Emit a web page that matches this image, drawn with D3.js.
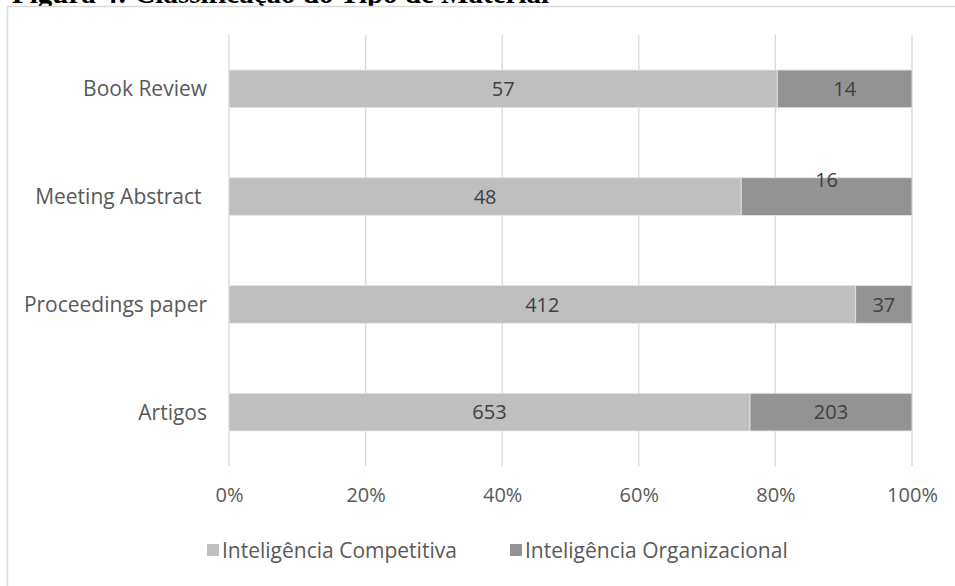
<!DOCTYPE html>
<html><head><meta charset="utf-8">
<script src="https://cdn.jsdelivr.net/npm/d3@7"></script>
<style>
html,body{margin:0;padding:0;background:#fff;overflow:hidden}
svg{display:block;font-family:"Open Sans",sans-serif}
</style></head>
<body>
<svg id="chart" width="955" height="586"></svg>
<script>
const title = "Figura 4: Classificação do Tipo de Material";
const categories = ["Book Review", "Meeting Abstract ", "Proceedings paper", "Artigos"];
const seriesNames = ["Inteligência Competitiva", "Inteligência Organizacional"];
const competitiva = [57, 48, 412, 653];
const organizacional = [14, 16, 37, 203];
const tickValues = [0, 0.2, 0.4, 0.6, 0.8, 1.0];
const colors = ["#bfbfbf", "#939393"];

const svg = d3.select("#chart");

// cropped figure caption (cut off at the top edge, as in the source)
svg.append("text").attr("x", 12).attr("y", 3)
  .attr("font-family", "'Liberation Serif', serif").attr("font-weight", "bold")
  .attr("font-size", 29).attr("fill", "#000").text(title);

// chart area border
svg.append("rect").attr("x", 7.5).attr("y", 6.5).attr("width", 1000).attr("height", 700)
  .attr("fill", "#fff").attr("stroke", "#d9d9d9").attr("stroke-width", 1.5);

const m = {left: 229, right: 912, top: 35, bottom: 466};
const x = d3.scaleLinear().domain([0, 1]).range([m.left, m.right]);
const y = d3.scaleBand().domain(categories).range([m.top, m.bottom]).paddingInner(0.65).paddingOuter(0.325);

// gridlines
svg.append("g").selectAll("line").data(tickValues).join("line")
  .attr("x1", d => x(d)).attr("x2", d => x(d))
  .attr("y1", m.top).attr("y2", m.bottom)
  .attr("stroke", "#d9d9d9").attr("stroke-width", 1.3);

const rows = categories.map((c, i) => {
  const t = competitiva[i] + organizacional[i];
  return {cat: c, vals: [competitiva[i], organizacional[i]], t};
});

const gBars = svg.append("g");
rows.forEach(r => {
  let acc = 0;
  r.vals.forEach((v, s) => {
    const x0 = x(acc / r.t), x1 = x((acc + v) / r.t);
    gBars.append("rect").attr("x", x0).attr("y", y(r.cat))
      .attr("width", x1 - x0).attr("height", y.bandwidth())
      .attr("fill", colors[s]).attr("stroke", "#e6e6e6").attr("stroke-width", 0.8);
    let dy = 0;
    if (r.cat.startsWith("Meeting") && s === 1) dy = -17;
    gBars.append("text").attr("x", (x0 + x1) / 2)
      .attr("y", y(r.cat) + y.bandwidth() / 2 + dy)
      .attr("dy", "0.36em").attr("text-anchor", "middle")
      .attr("font-size", 20).attr("fill", "#404040").text(v);
    acc += v;
  });
});

// category axis labels
svg.append("g").selectAll("text").data(categories).join("text")
  .attr("x", 207).attr("y", d => y(d) + y.bandwidth() / 2)
  .attr("dy", "0.36em").attr("text-anchor", "end")
  .style("white-space", "pre")
  .attr("font-size", 21).attr("fill", "#595959").text(d => d);

// x axis tick labels
const xAxis = d3.axisBottom(x).tickValues(tickValues).tickFormat(d3.format(".0%")).tickSize(0).tickPadding(0);
const ga = svg.append("g").attr("transform", `translate(0,${m.bottom + 22})`).call(xAxis);
ga.select(".domain").remove();
ga.selectAll("text").attr("font-family", "'Open Sans',sans-serif").attr("font-size", 20).attr("fill", "#595959");

// legend
const legX = [207, 510];
const leg = svg.append("g");
seriesNames.forEach((n, i) => {
  leg.append("rect").attr("x", legX[i]).attr("y", 544).attr("width", 12).attr("height", 12).attr("fill", colors[i]);
  leg.append("text").attr("x", legX[i] + 15).attr("y", 550).attr("dy", "0.36em")
    .attr("font-size", 21).attr("fill", "#595959").text(n);
});
</script>
</body></html>
